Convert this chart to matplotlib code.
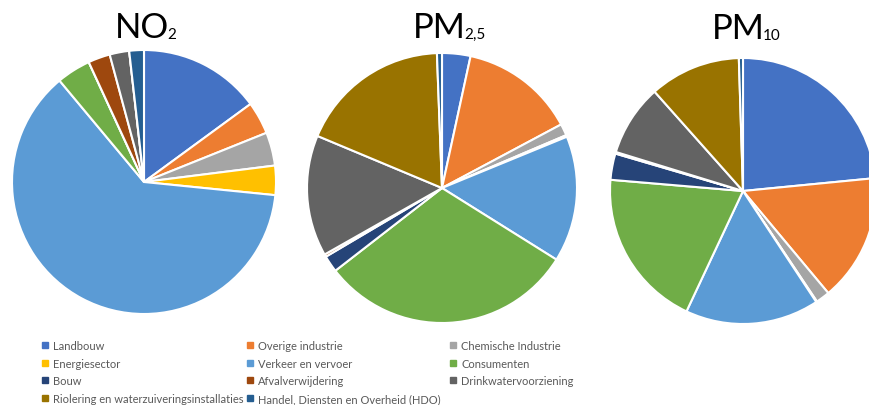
import matplotlib.pyplot as plt
from matplotlib.lines import Line2D

# Sectors (legend order)
categories = ['Landbouw', 'Overige industrie', 'Chemische Industrie',
              'Energiesector', 'Verkeer en vervoer', 'Consumenten',
              'Bouw', 'Afvalverwijdering', 'Drinkwatervoorziening',
              'Riolering en waterzuiveringsinstallaties',
              'Handel, Diensten en Overheid (HDO)']
colors = ['#4472C4', '#ED7D31', '#A5A5A5', '#FFC000', '#5B9BD5', '#70AD47',
          '#264478', '#9E480E', '#636363', '#997300', '#255E91']

# Share per sector (%)
no2 = [15.0, 4.0, 4.1, 3.6, 62.6, 4.2, 0.0, 2.7, 2.4, 0.0, 1.8]
pm25 = [3.4, 13.8, 1.4, 0.2, 15.1, 30.6, 2.0, 0.3, 14.5, 18.1, 0.6]
pm10 = [23.5, 15.5, 1.7, 0.1, 16.3, 19.4, 3.2, 0.2, 8.7, 11.1, 0.5]

titles = [('NO', '2'), ('PM', '2,5'), ('PM', '10')]

W, H = 870, 406
fig = plt.figure(figsize=(W / 100, H / 100), dpi=100)
plt.rcParams['font.family'] = ['Lato', 'DejaVu Sans']

# pie layout in pixels: center x, center y, radius
pies = [(144, 183, 132), (442, 189, 135), (743, 192, 133)]
title_pos = [(146, 38), (450, 38), (747, 39)]

for (cx, cy, r), vals, (main, sub), (tx, ty) in zip(pies, [no2, pm25, pm10], titles, title_pos):
    ax = fig.add_axes([(cx - r) / W, (H - cy - r) / H, 2 * r / W, 2 * r / H])
    ax.pie(vals, colors=colors, startangle=90, counterclock=False,
           wedgeprops=dict(edgecolor='white', linewidth=1.5))
    ax.set_xlim(-1, 1)
    ax.set_ylim(-1, 1)
    ax.set_aspect('equal')
    ax.axis('off')

    # title with a small subscript right after the main text
    renderer = fig.canvas.get_renderer()
    s = fig.text(0, 0, sub, fontsize=11, va='baseline')
    sw = s.get_window_extent(renderer).width
    t = fig.text((tx - sw / 2) / W, 1 - ty / H, main, fontsize=25,
                 ha='center', va='baseline', color='black')
    ext = t.get_window_extent(renderer)
    s.set_position(((ext.x1 - 1.5) / W, 1 - (ty + 1) / H))

# legend in three columns, row-wise like the original
cols = [[0, 3, 6, 9], [1, 4, 7, 10], [2, 5, 8]]
col_x = [41, 246, 449]
for idx, x in zip(cols, col_x):
    handles = [Line2D([], [], marker='s', linestyle='none', markersize=5,
                      markerfacecolor=colors[i], markeredgecolor=colors[i])
               for i in idx]
    fig.legend(handles, [categories[i] for i in idx], loc='upper left',
               bbox_to_anchor=(x / W, 1 - 341 / H), frameon=False,
               fontsize=8, labelcolor='#595959', borderpad=0, borderaxespad=0,
               handlelength=0.8, handletextpad=0.3, labelspacing=0.6)

fig.savefig('out.png', dpi=100, facecolor='white')
